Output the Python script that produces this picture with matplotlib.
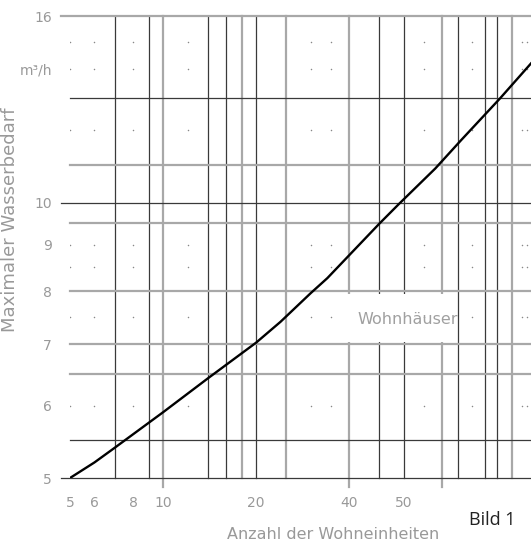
import matplotlib
matplotlib.use("Agg")
import matplotlib.pyplot as plt
from matplotlib.patches import Rectangle

# curve (Anzahl der Wohneinheiten -> m3/h)
wohnungen = [5, 6, 7, 10, 14, 20, 24, 30, 34, 40, 50, 58, 76, 92, 123, 155]
bedarf = [5.0, 5.2, 5.4, 5.9, 6.43, 7.03, 7.41, 7.96, 8.27, 8.76, 9.48, 9.97, 10.9, 11.7, 13.0, 14.2]

x_ticks = [5, 6, 8, 10, 20, 40, 60]
x_labels = ["5", "6", "8", "10", "20", "40", "50"]
y_ticks = [5, 6, 7, 8, 9, 10, 14, 16]
y_labels = ["5", "6", "7", "8", "9", "10", "m\u00b3/h", "16"]

# grid lines: (value, dark?)
v_lines = [(7, True), (9, True), (10, False), (14, True), (16, True), (18, False),
           (20, True), (25, False), (40, False), (50, True), (60, True), (80, False),
           (90, True), (110, True), (120, True), (135, False)]
h_lines = [(5, True), (5.5, True), (6.5, False), (7, False), (8, False), (9.5, False),
           (10, True), (11, False), (13, True), (16, False)]
v_long = [10, 40, 80]
h_long = [5, 10, 16]

dot_x = [5, 6, 8, 12, 30, 35, 70, 100, 145, 150]
dot_y = [6, 7.5, 8.5, 9, 12, 14, 15]

fig = plt.figure(figsize=(5.31, 5.46), dpi=100)
ax = fig.add_axes([70 / 531, 68 / 546, 461 / 531, 462 / 546])
ax.set_xscale("log")
ax.set_yscale("log")
ax.set_xlim(5, 155)
ax.set_ylim(5, 16)

dark = "#3a3a3a"
grey = "#a8a8a8"
for v, d in v_lines:
    ymin = -9 / 462 if v in v_long else 0
    ax.axvline(v, ymin=ymin, ymax=1, color=dark if d else grey,
               lw=0.9 if d else 1.6, clip_on=False, zorder=1)
for v, d in h_lines:
    xmin = -9 / 461 if v in h_long else 0
    ax.axhline(v, xmin=xmin, xmax=1, color=dark if d else grey,
               lw=0.9 if d else 1.6, clip_on=False, zorder=1)

# white label box between the 7 and 8 lines
ax.add_patch(Rectangle((26, 7.04), 88 - 26, 7.94 - 7.04, facecolor="white",
                       edgecolor="none", zorder=1.5))

for yy in dot_y:
    ax.scatter(dot_x, [yy] * len(dot_x), s=1.2, color="#888888", lw=0, zorder=2)

ax.plot(wohnungen, bedarf, color="black", lw=1.7, zorder=3)

for s in ax.spines.values():
    s.set_visible(False)
ax.minorticks_off()
ax.set_xticks(x_ticks, x_labels)
ax.set_yticks(y_ticks, y_labels)
ax.tick_params(length=0, labelsize=10, labelcolor="#999999")
ax.tick_params(axis="x", pad=13)
ax.tick_params(axis="y", pad=13)

ax.set_xlabel("Anzahl der Wohneinheiten", fontsize=11.5, color="#999999")
ax.xaxis.set_label_coords(0.57, -0.105)
ax.set_ylabel("Maximaler Wasserbedarf", fontsize=13, color="#999999")
ax.yaxis.set_label_coords(-0.11, 0.56)

ax.text(0.733, 0.342, "Wohnh\u00e4user", transform=ax.transAxes, fontsize=11.5,
        color="#a0a0a0", ha="center", va="center", zorder=4)
fig.text(492 / 531, 1 - 520 / 546, "Bild 1", fontsize=13, color="#222222",
         family="Open Sans", ha="center", va="center")

fig.savefig("out.png", dpi=100)
